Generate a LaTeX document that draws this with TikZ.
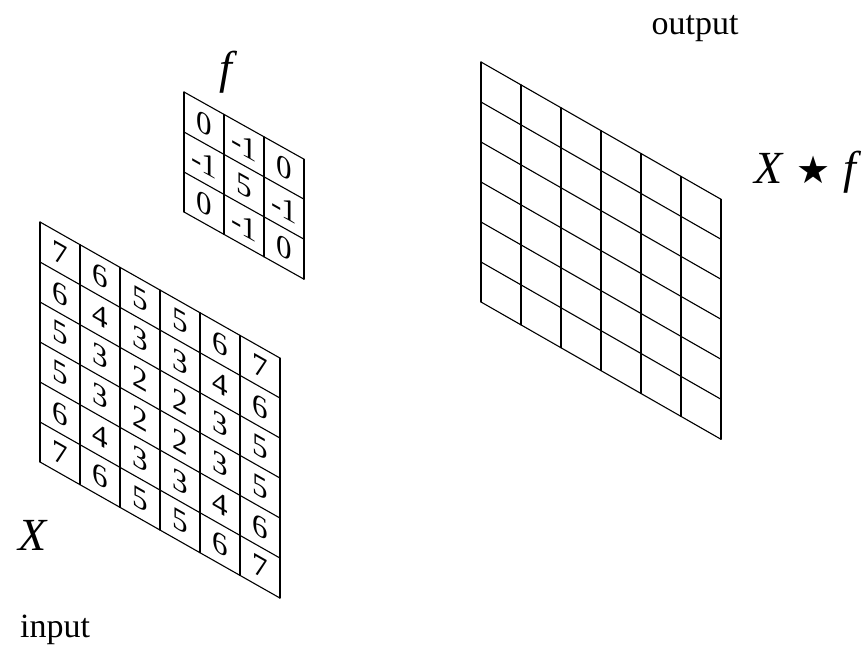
\documentclass[tikz,border=0pt]{standalone}
\usepackage{fontspec}
\setmainfont{Liberation Serif}
\newfontfamily\starfont{DejaVu Sans}
\usetikzlibrary{positioning}

\begin{document}
\begin{tikzpicture}[
  x=1pt, y=-1pt,
  gridline/.style={line width=1.1pt, line cap=round, line join=round},
  cell/.style={inner sep=0pt, font=\fontsize{31}{31}\selectfont, transform shape},
  lbl/.style={inner sep=0pt, font=\fontsize{34}{34}\selectfont},
  sym/.style={inner sep=0pt, font=\fontsize{46}{46}\selectfont\itshape}
]
\useasboundingbox (0,0) rectangle (864,647);

% input X
\begin{scope}[shift={(40,222)}, yslant=-0.567]
  \foreach \k in {0,...,6} {
    \draw[gridline] (40*\k,0) -- (40*\k,240);
    \draw[gridline] (0,40*\k) -- (240,40*\k);
  }
  \foreach \row [count=\r from 0] in {{7,6,5,5,6,7},{6,4,3,3,4,6},{5,3,2,2,3,5},{5,3,2,2,3,5},{6,4,3,3,4,6},{7,6,5,5,6,7}}
    \foreach \v [count=\c from 0] in \row
      \node[cell] (in-\r-\c) at (20+40*\c, 20+40*\r) {\v};
\end{scope}

% filter f
\begin{scope}[shift={(184,92)}, yslant=-0.56]
  \foreach \k in {0,...,3} {
    \draw[gridline] (40*\k,0) -- (40*\k,120);
    \draw[gridline] (0,40*\k) -- (120,40*\k);
  }
  \foreach \row [count=\r from 0] in {{0,-1,0},{-1,5,-1},{0,-1,0}}
    \foreach \v [count=\c from 0] in \row
      \node[cell] (flt-\r-\c) at (20+40*\c, 20+40*\r) {\v};
\end{scope}

% output
\begin{scope}[shift={(481,62)}, yslant=-0.572]
  \foreach \k in {0,...,6} {
    \draw[gridline] (40*\k,0) -- (40*\k,240);
    \draw[gridline] (0,40*\k) -- (240,40*\k);
  }
\end{scope}

\node[lbl, anchor=base] (inputlbl) at (55,637) {input};
\node[lbl, anchor=base] (outputlbl) at (695,35) {output};
\node[sym, anchor=base] (xlbl) at (33,550) {X};
\node[sym, anchor=base] (flbl) at (226,84) {f};
\node[sym, anchor=base west] (convlbl) at (754,183) {X\hspace{0.3em}{\normalfont\starfont\fontsize{38}{38}\selectfont★}\hspace{0.3em}f};
\end{tikzpicture}
\end{document}
